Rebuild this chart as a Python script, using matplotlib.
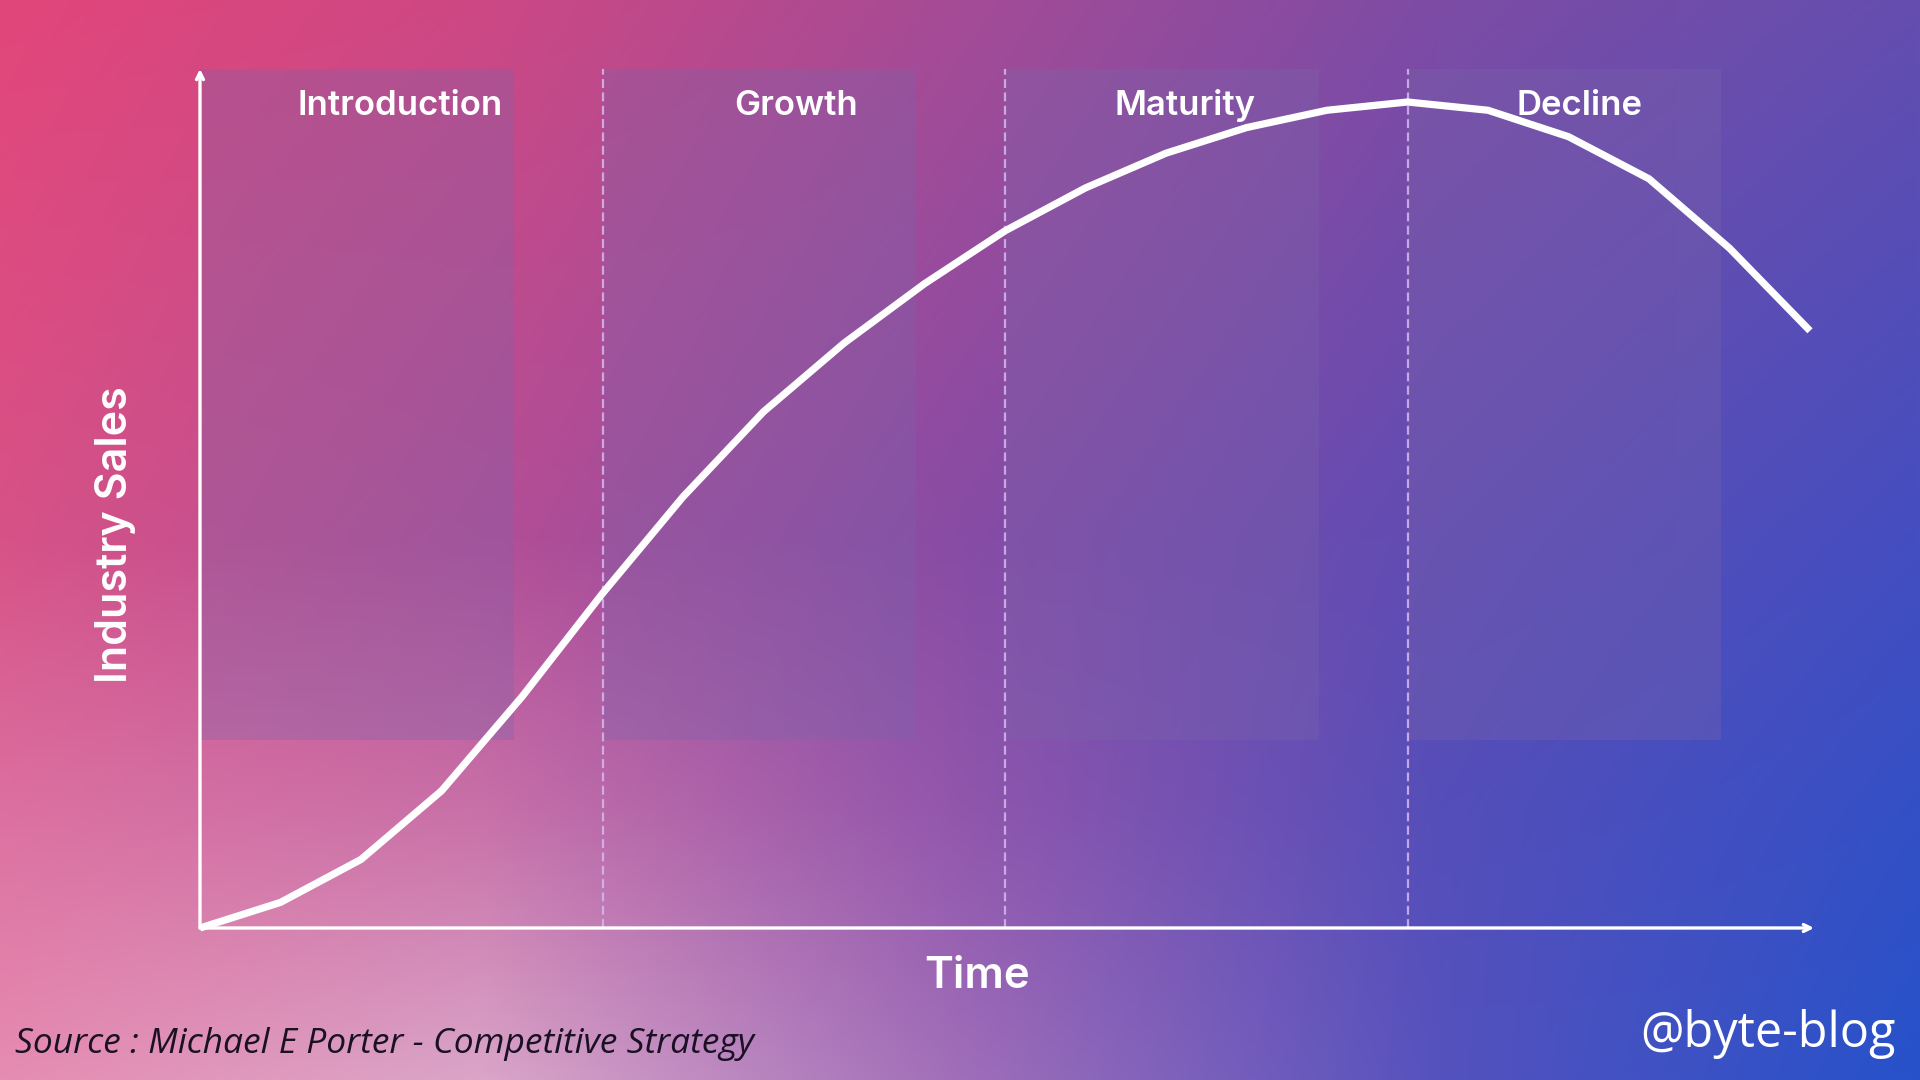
import numpy as np
import matplotlib
matplotlib.use("Agg")
import matplotlib.pyplot as plt

# ---------------- data ----------------
time_points = list(range(21))
industry_sales = [0, 3.1, 8.3, 16.6, 28.0, 40.5, 52.2, 62.5, 70.8, 78.0, 84.4,
                  89.6, 93.8, 96.9, 99.0, 100, 99.0, 95.8, 90.7, 82.3, 72.3]
phase_names = ["Introduction", "Growth", "Maturity", "Decline"]
phase_starts = [0, 5, 10, 15]
phase_box_width = 3.9
phase_label_x = [2.48, 7.4, 12.24, 17.14]
boundaries = [5, 10, 15]
x_label = "Time"
y_label = "Industry Sales"
source_text = "Source : Michael E Porter - Competitive Strategy"
brand_text = "@byte-blog"

W, H = 1920, 1080
fig = plt.figure(figsize=(W / 100, H / 100), dpi=100)

# ---------------- background gradient ----------------
bg_ax = fig.add_axes([0, 0, 1, 1])
bg_ax.set_axis_off()
us = [0.0, 0.25, 0.5, 0.75, 1.0]
vs = [0.0, 0.5, 0.75, 1.0]
ctrl = np.array([
    [(226, 70, 122), (205, 72, 132), (165, 75, 150), (125, 76, 165), (100, 78, 175)],
    [(215, 82, 135), (180, 78, 150), (135, 76, 165), (95, 76, 180), (68, 78, 192)],
    [(220, 112, 160), (200, 112, 168), (145, 86, 172), (85, 78, 185), (52, 80, 198)],
    [(230, 140, 178), (218, 165, 200), (160, 110, 185), (85, 82, 190), (38, 82, 202)],
], dtype=float) / 255.0
nx, ny = 384, 216
gx = np.linspace(0, 1, nx)
gy = np.linspace(0, 1, ny)
tmp = np.empty((len(vs), nx, 3))
for i in range(len(vs)):
    for c in range(3):
        tmp[i, :, c] = np.interp(gx, us, ctrl[i, :, c])
img = np.empty((ny, nx, 3))
for j in range(nx):
    for c in range(3):
        img[:, j, c] = np.interp(gy, vs, tmp[:, j, c])
bg_ax.imshow(img, extent=[0, 1, 0, 1], aspect="auto", interpolation="bilinear",
             origin="upper")
bg_ax.set_xlim(0, 1)
bg_ax.set_ylim(0, 1)

# ---------------- main chart ----------------
ax = fig.add_axes([200 / W, 152 / H, 1610 / W, 826 / H])
ax.patch.set_alpha(0)
ax.set_xlim(0, 20)
ax.set_ylim(0, 100)
ax.set_axis_off()

top = 104.0
box_bottom = 22.8
for s in phase_starts:
    ax.add_patch(plt.Rectangle((s, box_bottom), phase_box_width, top - box_bottom,
                               facecolor="#7a64aa", alpha=0.32, edgecolor="none",
                               zorder=1, clip_on=False))

for b in boundaries:
    ax.plot([b, b], [0, top], color="#d7b8f0", lw=1.6, ls=(0, (4, 2)),
            alpha=0.85, zorder=2, clip_on=False)

# axes arrows
ax.annotate("", xy=(0, top), xytext=(0, 0),
            arrowprops=dict(arrowstyle="->,head_length=0.5,head_width=0.25",
                            color="white", lw=2.4, shrinkA=0, shrinkB=0),
            annotation_clip=False, zorder=4)
ax.annotate("", xy=(20.05, 0), xytext=(0, 0),
            arrowprops=dict(arrowstyle="->,head_length=0.5,head_width=0.25",
                            color="white", lw=2.4, shrinkA=0, shrinkB=0),
            annotation_clip=False, zorder=4)

ax.plot(time_points, industry_sales, color="white", lw=5.2, zorder=5,
        solid_joinstyle="miter", solid_capstyle="butt", clip_on=False)

# phase labels
for name, lx in zip(phase_names, phase_label_x):
    ax.text(lx, 98.4, name, color="white", fontsize=25, fontfamily="Inter",
            fontweight="semibold", ha="center", va="baseline", zorder=6)

# axis titles
fig.text(977 / W, 1 - 976 / H, x_label, color="white", fontsize=31.5,
         fontfamily="Inter", fontweight="semibold", ha="center", va="center")
fig.text(116 / W, 1 - 535 / H, y_label, color="white", fontsize=31,
         fontfamily="Inter", fontweight="semibold", ha="center", va="center",
         rotation=90)

fig.text(15 / W, 1 - 1044 / H, source_text, color="#1b1024", fontsize=25.5,
         fontfamily="Open Sans", fontstyle="italic", ha="left", va="center")
fig.text(1896 / W, 1 - 1034 / H, brand_text, color="white", fontsize=35,
         fontfamily="Open Sans", ha="right", va="center")

fig.savefig("out.png", dpi=100)
